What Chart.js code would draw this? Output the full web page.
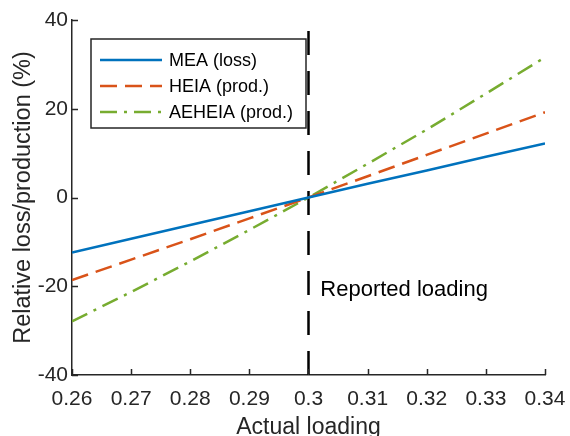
<!DOCTYPE html>
<html>
<head>
<meta charset="utf-8">
<script src="https://cdn.jsdelivr.net/npm/chart.js@4/dist/chart.umd.min.js"></script>
<style>
  html, body { margin: 0; padding: 0; background: #fff; }
  #wrap { width: 570px; height: 436px; }
</style>
</head>
<body>
<div id="wrap"><canvas id="loadingChart" width="570" height="436"></canvas></div>
<script>
// dane
const loading = [0.26, 0.27, 0.28, 0.29, 0.30, 0.31, 0.32, 0.33, 0.34];
const meaLoss = [-12.4, -9.3, -6.2, -3.1, 0, 3.1, 6.1, 9.2, 12.2];
const heiaProd = [-18.6, -14.0, -9.4, -4.7, 0, 4.8, 9.6, 14.4, 19.2];
const aeheiaProd = [-27.9, -21.3, -14.4, -7.3, 0, 7.6, 15.3, 23.4, 31.6];

const refX = [0.3, 0.3];
const refY = [-40, 40];

const xTicks = [0.26, 0.27, 0.28, 0.29, 0.30, 0.31, 0.32, 0.33, 0.34];
const xTickLabels = ['0.26', '0.27', '0.28', '0.29', '0.3', '0.31', '0.32', '0.33', '0.34'];
const yTicks = [-40, -20, 0, 20, 40];
const yTickLabels = ['-40', '-20', '0', '20', '40'];

const FONT = "'Liberation Sans', Arial, Helvetica, sans-serif";
const AXIS = '#262626';

function pts(xs, ys) {
    return xs.map((x, i) => ({ x: x, y: ys[i] }));
}

// ticki do wewnatrz (jak w MATLAB)
const innerTicks = {
    id: 'innerTicks',
    afterDraw(chart) {
        const ctx = chart.ctx;
        const xs = chart.scales.x, ys = chart.scales.y;
        const len = 6;
        ctx.save();
        ctx.strokeStyle = AXIS;
        ctx.lineWidth = 1.5;
        ctx.beginPath();
        xs.ticks.forEach(t => {
            const px = Math.round(xs.getPixelForValue(t.value)) + 0.5;
            ctx.moveTo(px, ys.bottom);
            ctx.lineTo(px, ys.bottom - len);
        });
        ys.ticks.forEach(t => {
            const py = Math.round(ys.getPixelForValue(t.value)) + 0.5;
            ctx.moveTo(xs.left, py);
            ctx.lineTo(xs.left + len, py);
        });
        ctx.stroke();
        ctx.restore();
    }
};

// legenda w ramce + podpis linii odniesienia
const boxLegend = {
    id: 'boxLegend',
    afterDatasetsDraw(chart) {
        const ctx = chart.ctx;
        const xs = chart.scales.x, ys = chart.scales.y;
        ctx.save();

        ctx.fillStyle = '#000';
        ctx.font = '22px ' + FONT;
        ctx.textAlign = 'left';
        ctx.textBaseline = 'middle';
        ctx.fillText('Reported loading', xs.getPixelForValue(0.302), ys.getPixelForValue(-20.8));

        const bx = 91, by = 39, bw = 215, bh = 89;
        ctx.fillStyle = '#fff';
        ctx.fillRect(bx, by, bw, bh);
        ctx.strokeStyle = AXIS;
        ctx.lineWidth = 1.5;
        ctx.strokeRect(bx, by, bw, bh);

        const items = chart.data.datasets.filter(d => d.label);
        ctx.font = '18px ' + FONT;
        items.forEach((d, i) => {
            const y = by + 21 + i * 26;
            ctx.strokeStyle = d.borderColor;
            ctx.lineWidth = d.borderWidth;
            ctx.setLineDash(d.borderDash || []);
            ctx.beginPath();
            ctx.moveTo(bx + 9, y);
            ctx.lineTo(bx + 71, y);
            ctx.stroke();
            ctx.setLineDash([]);
            ctx.fillStyle = '#000';
            ctx.fillText(d.label, bx + 78, y + 1);
        });
        ctx.restore();
    }
};

const ctx = document.getElementById('loadingChart').getContext('2d');
new Chart(ctx, {
    type: 'line',
    data: {
        datasets: [
            {
                label: 'MEA (loss)',
                data: pts(loading, meaLoss),
                borderColor: '#0072BD',
                borderWidth: 2.5,
                pointRadius: 0,
                fill: false
            },
            {
                label: 'HEIA (prod.)',
                data: pts(loading, heiaProd),
                borderColor: '#D95319',
                borderWidth: 2.5,
                borderDash: [17, 8],
                pointRadius: 0,
                fill: false
            },
            {
                label: 'AEHEIA (prod.)',
                data: pts(loading, aeheiaProd),
                borderColor: '#77AC30',
                borderWidth: 2.5,
                borderDash: [17, 7, 3, 7],
                pointRadius: 0,
                fill: false
            },
            {
                label: '',
                data: pts(refX, refY),
                borderColor: '#000',
                borderWidth: 2.5,
                borderDash: [24, 16],
                pointRadius: 0,
                fill: false
            }
        ]
    },
    options: {
        responsive: false,
        animation: false,
        layout: { padding: { left: 0, right: 25, top: 20, bottom: 0 } },
        scales: {
            x: {
                type: 'linear',
                min: 0.26,
                max: 0.34,
                afterBuildTicks: s => { s.ticks = xTicks.map(v => ({ value: v })); },
                afterFit: s => { s.height = 61; s.paddingLeft = 0; s.paddingRight = 0; },
                grid: { display: false, drawTicks: false },
                border: { display: true, color: AXIS, width: 1.5 },
                ticks: {
                    color: AXIS,
                    font: { family: FONT, size: 21 },
                    padding: 12,
                    maxRotation: 0,
                    autoSkip: false,
                    callback: (v, i) => xTickLabels[i]
                },
                title: {
                    display: true,
                    text: 'Actual loading',
                    color: AXIS,
                    font: { family: FONT, size: 23, lineHeight: 0.75 },
                    padding: { top: 0, bottom: 0 }
                }
            },
            y: {
                min: -40,
                max: 40,
                afterBuildTicks: s => { s.ticks = yTicks.map(v => ({ value: v })); },
                afterFit: s => { s.width = 72; s.paddingTop = 0; s.paddingBottom = 0; },
                grid: { display: false, drawTicks: false },
                border: { display: true, color: AXIS, width: 1.5 },
                ticks: {
                    color: AXIS,
                    font: { family: FONT, size: 21 },
                    padding: 4,
                    autoSkip: false,
                    callback: (v, i) => yTickLabels[i]
                },
                title: {
                    display: true,
                    text: 'Relative loss/production (%)',
                    color: AXIS,
                    font: { family: FONT, size: 23.5, lineHeight: 1 },
                    padding: { top: 12, bottom: 0 }
                }
            }
        },
        plugins: {
            legend: { display: false },
            tooltip: { enabled: false }
        }
    },
    plugins: [innerTicks, boxLegend]
});
</script>
</body>
</html>
